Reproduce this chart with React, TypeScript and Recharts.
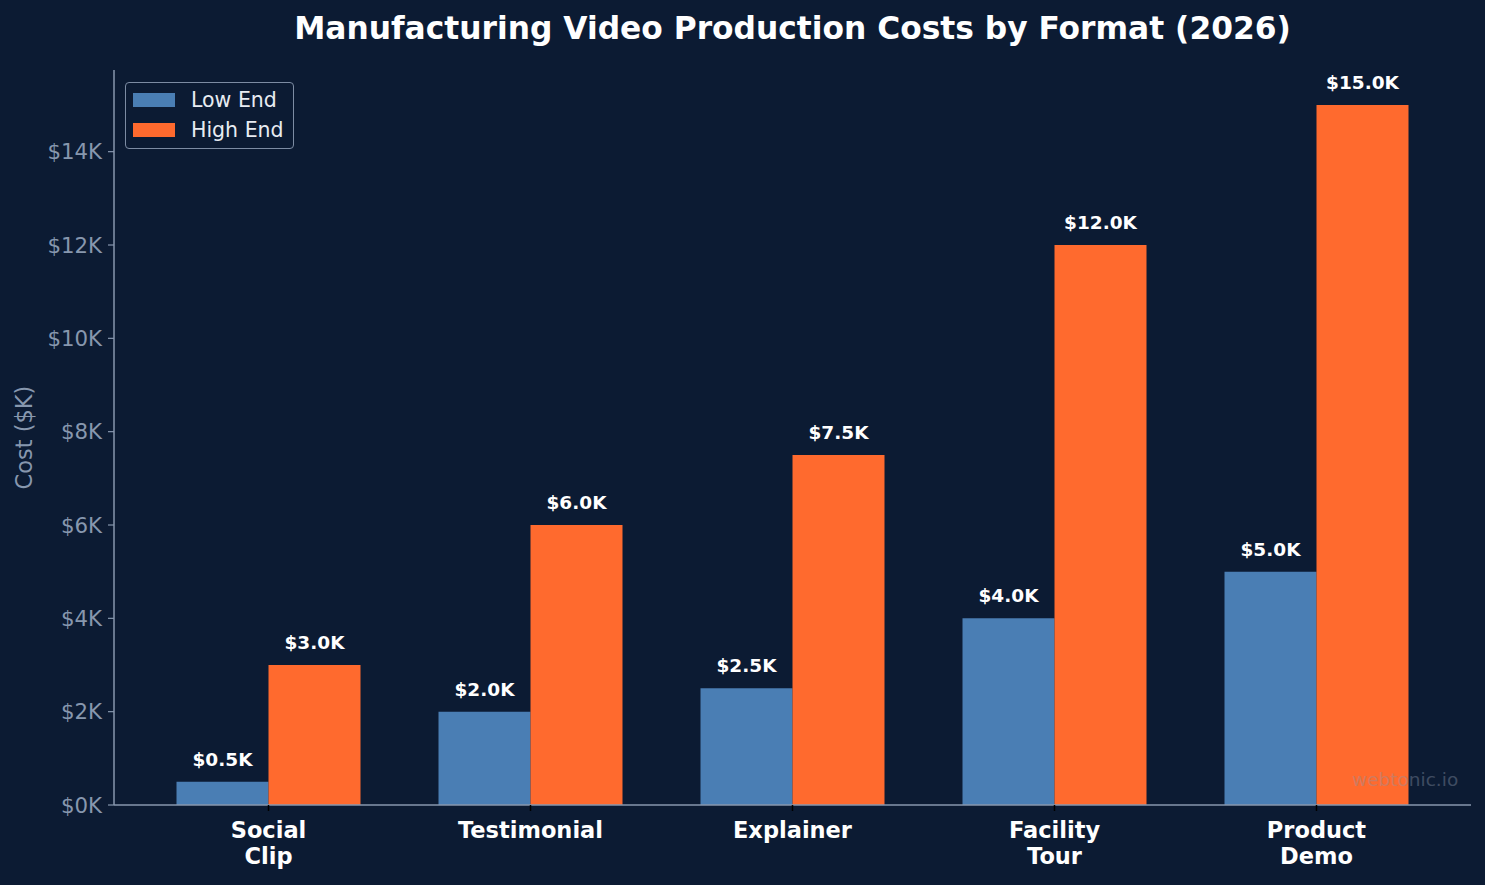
import React from 'react';
import { BarChart, Bar, XAxis, YAxis, LabelList } from 'recharts';

// 포맷별 제작 비용 ($K)
const categories = ['Social\nClip', 'Testimonial', 'Explainer', 'Facility\nTour', 'Product\nDemo'];
const lowEnd = [0.5, 2.0, 2.5, 4.0, 5.0];
const highEnd = [3.0, 6.0, 7.5, 12.0, 15.0];
const yTicks = [0, 2, 4, 6, 8, 10, 12, 14];

const BG = '#0c1b33';
const AXIS = '#8797ae';
const BLUE = '#4a7eb4';
const ORANGE = '#ff6a2e';
const FONT = '"DejaVu Sans", sans-serif';

const chartData = categories.map((name, i) => ({
  name,
  low: lowEnd[i],
  high: highEnd[i],
}));

const CategoryTick = (props: any) => {
  const { x, y, payload } = props;
  const lines = String(payload.value).split('\n');
  return (
    <text x={x} y={y + 25} textAnchor="middle" fill="#ffffff" fontFamily={FONT} fontWeight="bold" fontSize={22.5}>
      {lines.map((l, i) => (
        <tspan key={i} x={x} dy={i === 0 ? 0 : 26}>{l}</tspan>
      ))}
    </text>
  );
};

const ValueLabel = (props: any) => {
  const { x, y, width, value } = props;
  return (
    <text x={x + width / 2} y={y - 16} textAnchor="middle" fill="#ffffff" fontFamily={FONT} fontWeight="bold" fontSize={18.5}>
      {`$${Number(value).toFixed(1)}K`}
    </text>
  );
};

const series = [
  { label: 'Low End', color: BLUE },
  { label: 'High End', color: ORANGE },
];

const LegendBox = () => (
  <div style={{
    position: 'absolute', left: 125, top: 82, width: 169, height: 67,
    border: '1.5px solid #7d8ca3', borderRadius: 4, background: BG, boxSizing: 'border-box',
    fontFamily: FONT, fontSize: 20.5, color: '#e8ecf2', padding: '2px 0 0 7px',
  }}>
    {series.map((s) => (
      <div key={s.label} style={{ display: 'flex', alignItems: 'center', height: 30, whiteSpace: 'nowrap' }}>
        <span style={{ display: 'inline-block', width: 42, height: 14, background: s.color, marginRight: 16 }} />
        <span>{s.label}</span>
      </div>
    ))}
  </div>
);

export default function App() {
  return (
    <div style={{ position: 'absolute', left: 0, top: 0, width: 1485, height: 885, background: BG }}>
      <style>{`body{margin:0;background:${BG}}`}</style>
      <div style={{
        position: 'absolute', left: 114, width: 1357, top: 9, textAlign: 'center', lineHeight: '38px',
        fontFamily: FONT, fontWeight: 'bold', fontSize: 31.3, color: '#ffffff', whiteSpace: 'nowrap',
      }}>
        Manufacturing Video Production Costs by Format (2026)
      </div>
      <BarChart
        width={1485}
        height={885}
        data={chartData}
        margin={{ top: 70, right: 14, left: 0, bottom: 0 }}
        barCategoryGap={39}
        barGap={0}
      >
        <XAxis
          dataKey="name"
          height={80}
          padding={{ left: 23.5, right: 23.5 }}
          stroke={AXIS}
          axisLine={{ stroke: AXIS, strokeWidth: 1.5 }}
          tickLine={{ stroke: '#000000', strokeWidth: 1.5 }}
          tickSize={6}
          interval={0}
          tick={<CategoryTick />}
        />
        <YAxis
          width={114}
          domain={[0, 15.75]}
          ticks={yTicks}
          allowDataOverflow
          axisLine={{ stroke: AXIS, strokeWidth: 1.5 }}
          tickLine={{ stroke: AXIS, strokeWidth: 1.2 }}
          tickSize={6}
          tickMargin={6}
          tick={{ fill: AXIS, fontFamily: FONT, fontSize: 21.3 }}
          tickFormatter={(v: number) => `$${v}K`}
          label={{
            value: 'Cost ($K)', angle: -90, position: 'insideLeft', offset: 24,
            style: { fill: AXIS, fontFamily: FONT, fontSize: 22.5, textAnchor: 'middle' },
          }}
        />
        <Bar dataKey="low" name="Low End" fill={BLUE} isAnimationActive={false}>
          <LabelList dataKey="low" content={<ValueLabel />} />
        </Bar>
        <Bar dataKey="high" name="High End" fill={ORANGE} isAnimationActive={false}>
          <LabelList dataKey="high" content={<ValueLabel />} />
        </Bar>
      </BarChart>
      <LegendBox />
      <div style={{
        position: 'absolute', left: 1352, top: 769, fontFamily: FONT, fontSize: 18.5,
        color: '#8a94a6', opacity: 0.4, whiteSpace: 'nowrap',
      }}>
        webtonic.io
      </div>
    </div>
  );
}
